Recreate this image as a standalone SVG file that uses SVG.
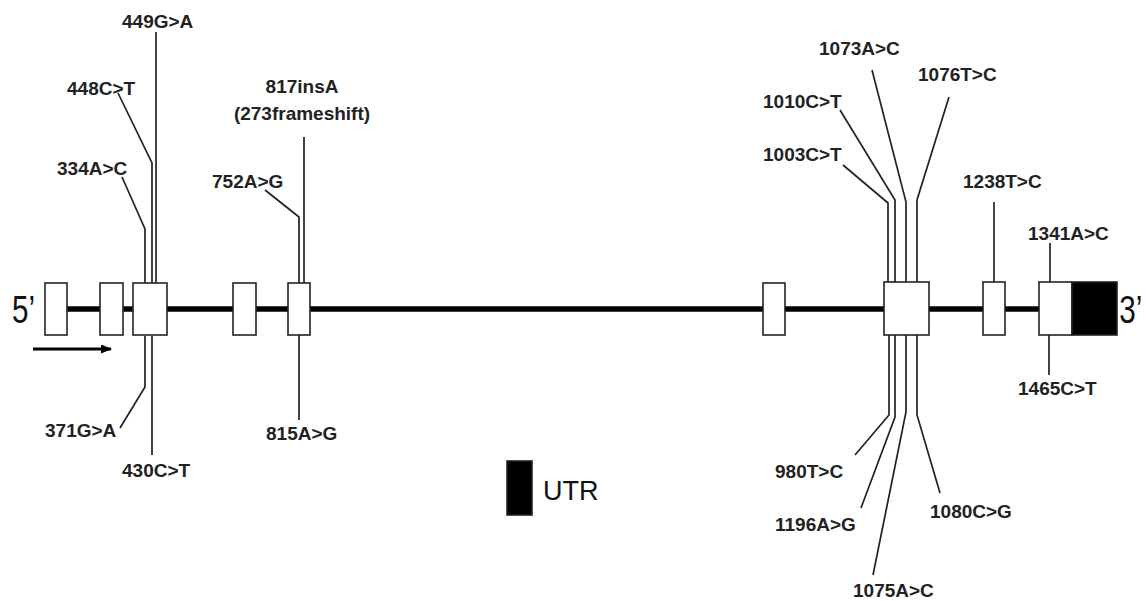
<svg xmlns="http://www.w3.org/2000/svg" width="1146" height="601" viewBox="0 0 1146 601">
<style>
.bb{stroke:#000;stroke-width:5.5;fill:none}
.ex{fill:#fff;stroke:#222;stroke-width:1.6}
.utr{fill:#000;stroke:#222;stroke-width:1.6}
.ln{fill:none;stroke:#222;stroke-width:1.7}
.lb{font-family:"Liberation Sans",Arial,sans-serif;font-weight:bold;font-size:19px;fill:#222}
.big{font-family:"Liberation Sans",Arial,sans-serif;font-size:38px;fill:#111}
.leg{font-family:"Liberation Sans",Arial,sans-serif;font-size:27px;fill:#111}
</style>
<defs>
<marker id="ah" markerWidth="11" markerHeight="9" refX="10" refY="4.5" orient="auto" markerUnits="userSpaceOnUse">
<path d="M0,0 L11,4.5 L0,9 Z" fill="#000"/>
</marker>
</defs>
<rect width="1146" height="601" fill="#fff"/>
<g id="backbone">
<line class="bb" x1="67" y1="309" x2="1039" y2="309"/>
</g>
<g id="connectors">
<polyline class="ln" points="122,177 145,229 145,283"/>
<polyline class="ln" points="118,93 152,163 152,283"/>
<line class="ln" x1="156" y1="32" x2="156" y2="283"/>
<polyline class="ln" points="145,336 145,387 120,428"/>
<line class="ln" x1="152" y1="336" x2="152" y2="455"/>
<polyline class="ln" points="265,190 299,217 299,283"/>
<line class="ln" x1="304" y1="137" x2="304" y2="283"/>
<line class="ln" x1="299" y1="335" x2="299" y2="420"/>
<polyline class="ln" points="843,165 888,203 888,282"/>
<polyline class="ln" points="840,110 895,200 895,282"/>
<polyline class="ln" points="872,70 906,202 906,282"/>
<polyline class="ln" points="949,97 917,200 917,282"/>
<polyline class="ln" points="889,335 889,415 855,455"/>
<polyline class="ln" points="895,335 895,417 861,508"/>
<polyline class="ln" points="906,335 906,412 873,575"/>
<polyline class="ln" points="917,335 917,415 940,493"/>
<line class="ln" x1="994" y1="202" x2="994" y2="282"/>
<line class="ln" x1="1050" y1="243" x2="1050" y2="282"/>
<line class="ln" x1="1049" y1="335" x2="1049" y2="375"/>
<line x1="33" y1="349" x2="111" y2="349" stroke="#000" stroke-width="3" marker-end="url(#ah)"/>
</g>
<g id="exon1"><rect class="ex" x="45" y="283" width="22" height="52"/></g>
<g id="exon2"><rect class="ex" x="100" y="283" width="23" height="52"/></g>
<g id="exon3"><rect class="ex" x="133" y="283" width="34" height="52"/></g>
<g id="exon4"><rect class="ex" x="233" y="283" width="23" height="52"/></g>
<g id="exon5"><rect class="ex" x="288" y="283" width="22" height="52"/></g>
<g id="exon6"><rect class="ex" x="763" y="283" width="22" height="52"/></g>
<g id="exon7"><rect class="ex" x="884" y="282" width="45" height="53"/></g>
<g id="exon8"><rect class="ex" x="983" y="282" width="22" height="53"/></g>
<g id="exon9"><rect class="ex" x="1039" y="282" width="33" height="53"/><rect class="utr" x="1072" y="282" width="45" height="53"/></g>
<g id="ends">
<text class="big" transform="scale(0.78,1)" x="15.4" y="323">5’</text>
<text class="big" transform="scale(0.78,1)" x="1435" y="323">3’</text>
</g>
<g id="labels">
<text class="lb" x="122" y="28">449G&gt;A</text>
<text class="lb" x="67" y="95">448C&gt;T</text>
<text class="lb" x="57" y="175">334A&gt;C</text>
<text class="lb" x="45" y="437">371G&gt;A</text>
<text class="lb" x="122" y="477">430C&gt;T</text>
<text class="lb" x="212" y="188">752A&gt;G</text>
<text class="lb" x="302" y="93" text-anchor="middle">817insA</text>
<text class="lb" x="302" y="120" text-anchor="middle">(273frameshift)</text>
<text class="lb" x="266" y="440">815A&gt;G</text>
<text class="lb" x="819" y="55">1073A&gt;C</text>
<text class="lb" x="918" y="81">1076T&gt;C</text>
<text class="lb" x="763" y="108">1010C&gt;T</text>
<text class="lb" x="763" y="161">1003C&gt;T</text>
<text class="lb" x="775" y="478">980T&gt;C</text>
<text class="lb" x="775" y="531">1196A&gt;G</text>
<text class="lb" x="853" y="597">1075A&gt;C</text>
<text class="lb" x="930" y="518">1080C&gt;G</text>
<text class="lb" x="963" y="188">1238T&gt;C</text>
<text class="lb" x="1028" y="240">1341A&gt;C</text>
<text class="lb" x="1018" y="395">1465C&gt;T</text>
</g>
<g id="legend">
<rect class="utr" x="507" y="461" width="25" height="54"/>
<text class="leg" x="543" y="500">UTR</text>
</g>
</svg>
